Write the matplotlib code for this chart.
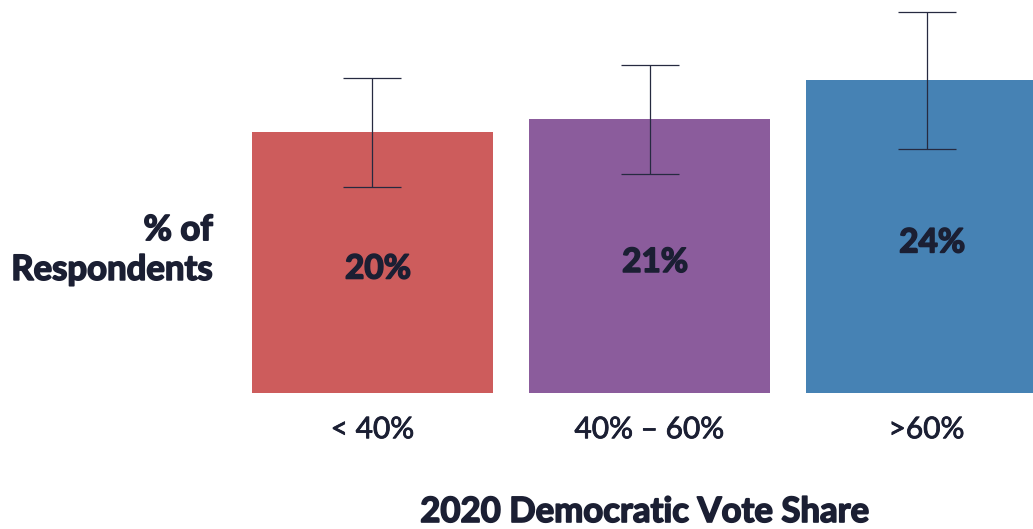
import matplotlib
matplotlib.use("Agg")
import matplotlib.pyplot as plt
import matplotlib.patheffects as pe

# ── data ─────────────────────────────────────────────
categories = ["< 40%", "40% – 60%", ">60%"]
values     = [20, 21, 24]
err_low    = [15.8, 16.8, 18.7]
err_high   = [24.1, 25.1, 29.2]
bar_colors = ["#CD5C5C", "#8B5C9C", "#4682B4"]

TXT = "#1b1f33"
plt.rcParams["font.family"] = ["Lato", "DejaVu Sans"]
heavy = [pe.withStroke(linewidth=1.2, foreground=TXT)]
medium = [pe.withStroke(linewidth=0.6, foreground=TXT)]

fig = plt.figure(figsize=(10.33, 5.29), dpi=100)
ax = fig.add_axes([230 / 1033, 136 / 529, 803 / 1033, 393 / 529])

x = list(range(len(categories)))
ax.bar(x, values, width=0.87, color=bar_colors, zorder=1)

yerr = [[v - lo for v, lo in zip(values, err_low)],
        [hi - v for v, hi in zip(values, err_high)]]
ax.errorbar(x, values, yerr=yerr, fmt="none", ecolor="#262a40",
            elinewidth=0.9, capsize=21, capthick=0.9, zorder=3)

for xi, v in zip(x, values):
    ax.text(xi + 0.02, v / 2 - 0.5, f"{v}%", ha="center", va="center",
            fontsize=24, fontweight="bold", color=TXT, zorder=4,
            path_effects=heavy)

ax.set_xlim(-0.514, 2.384)
ax.set_ylim(0, 30.1)
ax.set_xticks(x)
ax.set_xticklabels(categories, fontsize=21.5, color=TXT)
for lbl in ax.get_xticklabels():
    lbl.set_path_effects(medium)
ax.tick_params(axis="x", length=0, pad=16)
ax.set_yticks([])
for sp in ax.spines.values():
    sp.set_visible(False)

fig.text(213 / 1033, (529 - 250) / 529, "% of\nRespondents", ha="right",
         va="center", multialignment="right", fontsize=25,
         fontweight="bold", color=TXT, linespacing=1.3, path_effects=heavy)
fig.text(645 / 1033, (529 - 512) / 529, "2020 Democratic Vote Share",
         ha="center", va="center", fontsize=25, fontweight="bold", color=TXT,
         path_effects=heavy)

fig.savefig("out.png", dpi=100, facecolor="white")
